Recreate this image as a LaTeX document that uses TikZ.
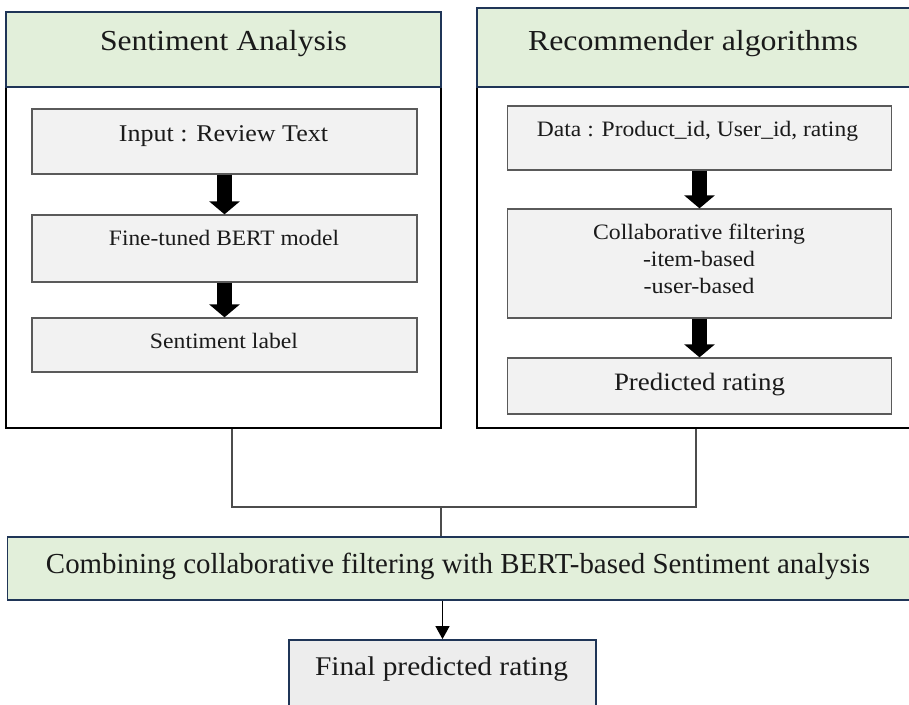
\documentclass[tikz,border=0pt]{standalone}
\usepackage{fontspec}
\setmainfont{Liberation Serif}
\usepackage{graphicx}
\usetikzlibrary{arrows.meta}
\definecolor{hdrgreen}{HTML}{E2EFDA}
\definecolor{navy}{HTML}{1F3557}
\definecolor{boxgray}{HTML}{F2F2F2}
\definecolor{finalgray}{HTML}{EDEDED}
\definecolor{edgegray}{HTML}{5A5A5A}
\definecolor{ink}{HTML}{1A1A1A}
% set text at a given size, stretched horizontally to a given width
\newcommand{\fitw}[3]{\resizebox{#1pt}{\height}{\fontsize{#2}{#2}\selectfont #3}}

\begin{document}
\begin{tikzpicture}[x=1pt,y=-1pt,
  box/.style={draw=edgegray,line width=1.3pt,fill=boxgray,inner sep=0pt},
  panel/.style={draw=black,line width=2.4pt,fill=white,inner sep=0pt},
  header/.style={draw=navy,line width=1.8pt,fill=hdrgreen,inner sep=0pt},
  finalbox/.style={draw=navy,line width=1.8pt,fill=finalgray,inner sep=0pt},
  txt/.style={anchor=base,inner sep=0pt,text=ink},
  blockarrow/.style={draw=black,line width=15pt,-{Triangle[width=30pt,length=13pt]}},
  link/.style={draw=black!70,line width=1.2pt},
  thinarrow/.style={draw=black,line width=1.2pt,-{Triangle[width=14pt,length=13pt]}}]

\useasboundingbox (0,0) rectangle (909,704);
\fill[white] (0,0) rectangle (909,704);
\clip (0,0) rectangle (909,704);

% left panel: sentiment analysis
\node[panel,minimum width=435pt,minimum height=416pt] (sa) at (223.5,220) {};
\node[header,minimum width=435pt,minimum height=75pt] (sah) at (223.5,49.5) {};
\node[box,minimum width=385pt,minimum height=65pt] (sin) at (224.5,141.5) {};
\node[box,minimum width=385pt,minimum height=67pt] (sbert) at (224.5,248.5) {};
\node[box,minimum width=385pt,minimum height=54pt] (slab) at (224.5,345) {};

% right panel: recommender algorithms
\node[panel,minimum width=438pt,minimum height=420pt] (ra) at (696,218) {};
\node[header,minimum width=438pt,minimum height=79pt] (rah) at (696,47.5) {};
\node[box,minimum width=384pt,minimum height=64pt] (rdata) at (699.5,138) {};
\node[box,minimum width=384pt,minimum height=109pt] (rcf) at (699.5,263.5) {};
\node[box,minimum width=384pt,minimum height=56pt] (rpred) at (699.5,386) {};

% combination and result
\node[header,minimum width=907.5pt,minimum height=63pt] (comb) at (461.25,568.5) {};
\node[finalbox,minimum width=307pt,minimum height=75pt] (fin) at (442.5,677.5) {};

% block arrows inside the panels
\draw[blockarrow] (sin.south) -- (sbert.north);
\draw[blockarrow] (sbert.south) -- (slab.north);
\draw[blockarrow] (rdata.south) -- (rcf.north);
\draw[blockarrow] (rcf.south) -- (rpred.north);

% joining the two panels
\coordinate (j) at (441,507);
\draw[link] ([xshift=8.5pt]sa.south) |- (j) -| (ra.south);
\draw[link] (j) -- (comb.north -| j);
\draw[thinarrow] (fin.north |- comb.south) -- (fin.north);

% labels
\node[txt] (tsa) at (223.5,50) {\fitw{247}{29}{Sentiment Analysis}};
\node[txt] (tra) at (693,50) {\fitw{330}{29}{Recommender algorithms}};
\node[txt] (tin) at (223.5,141.7) {\fitw{209}{24}{Input : Review Text}};
\node[txt] (tbert) at (224,245) {\fitw{230}{22}{Fine-tuned BERT model}};
\node[txt] (tlab) at (224,348) {\fitw{148}{22}{Sentiment label}};
\node[txt] (tdata) at (697.5,136) {\fitw{321}{22}{Data : Product\_id, User\_id, rating}};
\node[txt] (tcf1) at (699,239) {\fitw{212}{22}{Collaborative filtering}};
\node[txt] (tcf2) at (699,266) {\fitw{112}{22}{-item-based}};
\node[txt] (tcf3) at (699,293) {\fitw{111}{22}{-user-based}};
\node[txt] (tpred) at (699.5,390) {\fitw{171}{25}{Predicted rating}};
\node[txt] (tcomb) at (458,573) {\fitw{824}{29}{Combining collaborative filtering with BERT-based Sentiment analysis}};
\node[txt] (tfin) at (441.5,675) {\fitw{253}{27}{Final predicted rating}};
\end{tikzpicture}
\end{document}
